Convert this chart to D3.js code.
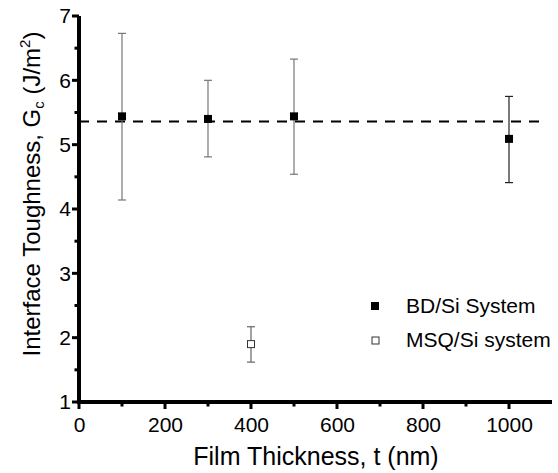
<!DOCTYPE html>
<html>
<head>
<meta charset="utf-8">
<script src="https://cdn.jsdelivr.net/npm/d3@7"></script>
<style>
  body { margin: 0; background: #fff; }
  text { font-family: Arial, "Liberation Sans", sans-serif; }
</style>
</head>
<body>
<svg width="558" height="473"></svg>
<script>
'use strict';

// BD/Si system
const bdThickness = [100, 300, 500, 1000];
const bdGc = [5.44, 5.40, 5.44, 5.09];
const bdLow = [4.14, 4.81, 4.54, 4.41];
const bdHigh = [6.73, 6.00, 6.33, 5.75];

// MSQ/Si system
const msqThickness = [400];
const msqGc = [1.90];
const msqLow = [1.62];
const msqHigh = [2.17];

const meanGc = 5.36;

const xTicks = [0, 200, 400, 600, 800, 1000];
const xMinorTicks = [100, 300, 500, 700, 900];
const yTicks = [1, 2, 3, 4, 5, 6, 7];
const yMinorTicks = [1.5, 2.5, 3.5, 4.5, 5.5, 6.5];

const svg = d3.select('svg');

const x = d3.scaleLinear().domain([0, 1100]).range([79, 552]);
const y = d3.scaleLinear().domain([1, 7]).range([402, 16]);

const bd = bdThickness.map((t, i) => ({t: t, g: bdGc[i], lo: bdLow[i], hi: bdHigh[i]}));
const msq = msqThickness.map((t, i) => ({t: t, g: msqGc[i], lo: msqLow[i], hi: msqHigh[i]}));

// mean line
svg.append('line')
    .attr('x1', x(0)).attr('x2', x(1080))
    .attr('y1', y(meanGc)).attr('y2', y(meanGc))
    .attr('stroke', '#000')
    .attr('stroke-width', 2)
    .attr('stroke-dasharray', '10,8');

// error bars
function errorBars(data, color) {
  data.forEach((d, i) => {
    const g = svg.append('g').attr('stroke', color(i)).attr('stroke-width', 1.2);
    g.append('line').attr('x1', x(d.t)).attr('x2', x(d.t)).attr('y1', y(d.lo)).attr('y2', y(d.hi));
    g.append('line').attr('x1', x(d.t) - 4).attr('x2', x(d.t) + 4).attr('y1', y(d.lo)).attr('y2', y(d.lo));
    g.append('line').attr('x1', x(d.t) - 4).attr('x2', x(d.t) + 4).attr('y1', y(d.hi)).attr('y2', y(d.hi));
  });
}
errorBars(bd, i => i === 3 ? '#222' : '#777');
errorBars(msq, i => '#666');

svg.selectAll('.bd')
    .data(bd)
    .enter()
    .append('rect')
        .attr('class', 'bd')
        .attr('x', d => x(d.t) - 4)
        .attr('y', d => y(d.g) - 4)
        .attr('width', 8)
        .attr('height', 8)
        .attr('fill', '#000');

svg.selectAll('.msq')
    .data(msq)
    .enter()
    .append('rect')
        .attr('class', 'msq')
        .attr('x', d => x(d.t) - 3.5)
        .attr('y', d => y(d.g) - 3.5)
        .attr('width', 7)
        .attr('height', 7)
        .attr('fill', '#fff')
        .attr('stroke', '#333')
        .attr('stroke-width', 1);

// axes: labels via d3 axis, lines and ticks as solid rects
const xAxis = d3.axisBottom(x).tickValues(xTicks).tickSize(0).tickPadding(15).tickFormat(d3.format('d'));
const yAxis = d3.axisLeft(y).tickValues(yTicks).tickSize(0).tickPadding(8).tickFormat(d3.format('d'));

function styleAxis(g) {
  g.select('.domain').remove();
  g.selectAll('.tick line').remove();
  g.selectAll('.tick text').attr('font-size', 21).attr('fill', '#000')
      .style('font-family', 'Arial, "Liberation Sans", sans-serif');
}

svg.append('g').attr('transform', 'translate(0,402)').call(xAxis).call(styleAxis);
svg.append('g').attr('transform', 'translate(79,0)').call(yAxis).call(styleAxis);

const ax = svg.append('g').attr('fill', '#000');
ax.append('rect').attr('x', x(0) - 2).attr('y', y(1) - 2).attr('width', x(1100) - x(0) + 2).attr('height', 4);
ax.append('rect').attr('x', x(0) - 2).attr('y', y(7)).attr('width', 4).attr('height', y(1) - y(7) + 2);
ax.selectAll('.xt').data(xTicks).enter().append('rect')
    .attr('x', d => x(d) - 1.5).attr('y', y(1)).attr('width', 3).attr('height', 7);
ax.selectAll('.xm').data(xMinorTicks).enter().append('rect')
    .attr('x', d => x(d) - 1.5).attr('y', y(1)).attr('width', 3).attr('height', 4.5);
ax.selectAll('.yt').data(yTicks).enter().append('rect')
    .attr('x', x(0) - 7).attr('y', d => y(d) - 1.5).attr('width', 7).attr('height', 3);
ax.selectAll('.ym').data(yMinorTicks).enter().append('rect')
    .attr('x', x(0) - 4.5).attr('y', d => y(d) - 1.5).attr('width', 4.5).attr('height', 3);

// axis titles
svg.append('text')
    .attr('x', 316)
    .attr('y', 465)
    .attr('text-anchor', 'middle')
    .attr('font-size', 25)
    .text('Film Thickness, t (nm)');

const yt = svg.append('text')
    .attr('transform', 'translate(40,194) rotate(-90)')
    .attr('text-anchor', 'middle')
    .attr('font-size', 24);
yt.append('tspan').text('Interface Toughness, G');
yt.append('tspan').attr('font-size', 15).attr('dy', 4).text('c');
yt.append('tspan').attr('dy', -4).text(' (J/m');
yt.append('tspan').attr('font-size', 15).attr('dy', -10).text('2');
yt.append('tspan').attr('dy', 10).text(')');

// legend
const legend = svg.append('g');
legend.append('rect').attr('x', 371).attr('y', 302).attr('width', 8).attr('height', 8).attr('fill', '#000');
legend.append('text').attr('x', 406).attr('y', 313).attr('font-size', 21).text('BD/Si System');
legend.append('rect').attr('x', 372).attr('y', 337).attr('width', 7).attr('height', 7)
    .attr('fill', '#fff').attr('stroke', '#333');
legend.append('text').attr('x', 406).attr('y', 347).attr('font-size', 21).text('MSQ/Si system');
</script>
</body>
</html>
